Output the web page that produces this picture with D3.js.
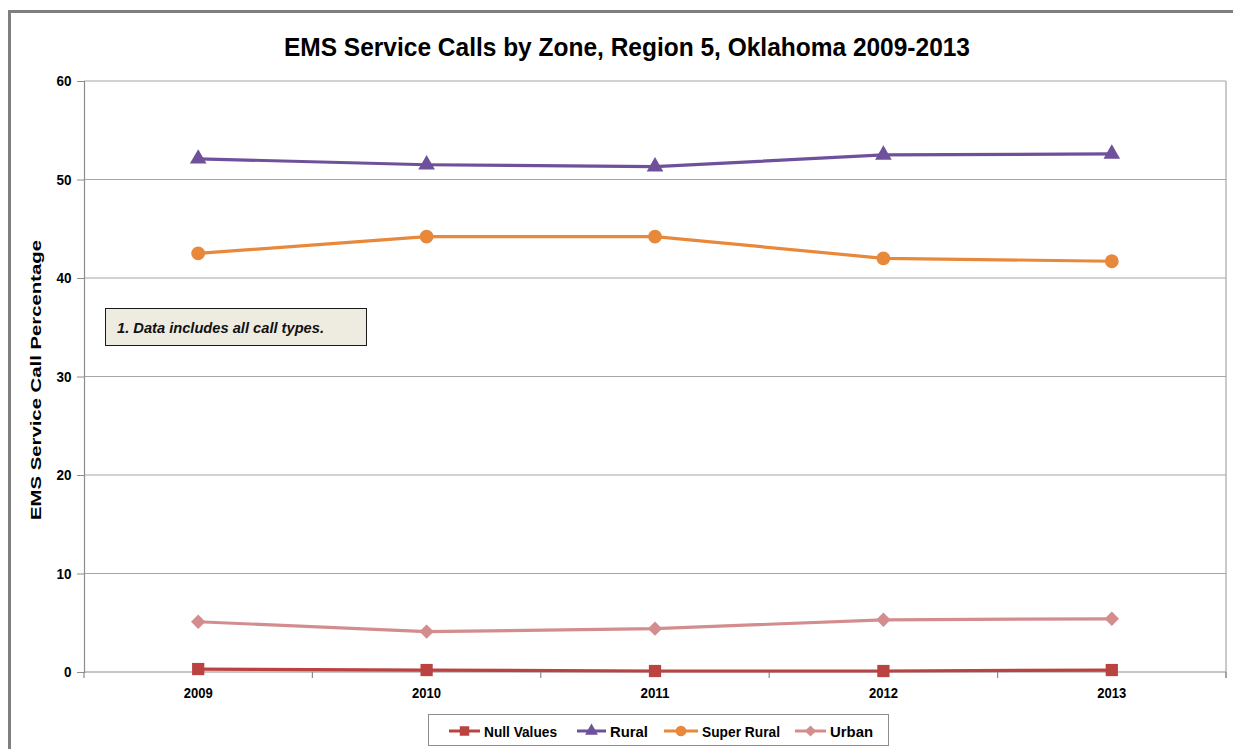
<!DOCTYPE html>
<html><head><meta charset="utf-8">
<script src="https://cdn.jsdelivr.net/npm/d3@7"></script>
<style>body{margin:0;background:#fff}svg{display:block}</style>
</head><body>
<script>
const years = ["2009","2010","2011","2012","2013"];
const nullValues = [0.3, 0.2, 0.1, 0.1, 0.2];
const rural = [52.1, 51.5, 51.3, 52.5, 52.6];
const superRural = [42.5, 44.2, 44.2, 42.0, 41.7];
const urban = [5.1, 4.1, 4.4, 5.3, 5.4];
const yTicks = [0, 10, 20, 30, 40, 50, 60];
const seriesNames = ["Null Values", "Rural", "Super Rural", "Urban"];
const seriesColors = ["#BA4240", "#6F519B", "#E8883A", "#D48D8E"];
const seriesShapes = ["square", "triangle", "circle", "diamond"];
const title = "EMS Service Calls by Zone, Region 5, Oklahoma 2009-2013";
const yLabel = "EMS Service Call Percentage";
const note = "1.  Data includes all call types.";

const series = [nullValues, rural, superRural, urban].map((v, i) => ({
  name: seriesNames[i], values: v, color: seriesColors[i], shape: seriesShapes[i]
}));

const W = 1233, H = 749;
const svg = d3.select("body").append("svg").attr("width", W).attr("height", H);
const font = "'Liberation Sans', Arial, sans-serif";

// outer frame
svg.append("rect").attr("x", 9.5).attr("y", 11.5).attr("width", W + 10).attr("height", H + 10)
  .attr("fill", "none").attr("stroke", "#7f7f7f").attr("stroke-width", 3);

const pLeft = 84, pRight = 1226, pTop = 81, pBottom = 672;
const x = d3.scaleBand().domain(years).range([pLeft, pRight]);
const y = d3.scaleLinear().domain([0, 60]).range([pBottom, pTop]);

// gridlines
svg.append("g").selectAll("line").data(yTicks.filter(d => d > 0)).join("line")
  .attr("x1", pLeft).attr("x2", pRight).attr("y1", d => y(d)).attr("y2", d => y(d))
  .attr("stroke", "#a6a6a6").attr("stroke-width", 1.2);

// right border of plot
svg.append("line").attr("x1", pRight).attr("x2", pRight).attr("y1", pTop).attr("y2", pBottom + 6)
  .attr("stroke", "#a6a6a6").attr("stroke-width", 1.2);

// y axis
const yAxis = svg.append("g").attr("transform", `translate(${pLeft},0)`)
  .call(d3.axisLeft(y).tickValues(yTicks).tickSize(7).tickPadding(7));
yAxis.select(".domain").attr("stroke", "#8c8c8c").attr("stroke-width", 1.2);
yAxis.selectAll(".tick line").attr("stroke", "#8c8c8c");
yAxis.selectAll("text").attr("font-family", font).attr("font-size", 15).attr("font-weight", "bold").attr("fill", "#000")
  .attr("transform", "scale(0.9,1)");

// x axis
const xAxis = svg.append("g").attr("transform", `translate(0,${pBottom})`)
  .call(d3.axisBottom(x).tickSize(0).tickPadding(15));
xAxis.select(".domain").remove();
xAxis.selectAll("text").attr("font-family", font).attr("font-size", 15).attr("font-weight", "bold").attr("fill", "#000")
  .attr("textLength", 29).attr("lengthAdjust", "spacingAndGlyphs");
svg.append("line").attr("x1", pLeft).attr("x2", pRight).attr("y1", pBottom).attr("y2", pBottom)
  .attr("stroke", "#8c8c8c").attr("stroke-width", 1.2);
const bounds = years.map(d => x(d)).concat([pRight]);
svg.append("g").selectAll("line").data(bounds).join("line")
  .attr("x1", d => d).attr("x2", d => d).attr("y1", pBottom).attr("y2", pBottom + 6)
  .attr("stroke", "#8c8c8c").attr("stroke-width", 1.2);

// title
svg.append("text").attr("x", 627).attr("y", 56).attr("text-anchor", "middle")
  .attr("font-family", font).attr("font-size", 26).attr("font-weight", "bold")
  .attr("textLength", 686).attr("lengthAdjust", "spacingAndGlyphs").text(title);

// y label
svg.append("text").attr("transform", "translate(41,380) rotate(-90)").attr("text-anchor", "middle")
  .attr("font-family", font).attr("font-size", 15).attr("font-weight", "bold")
  .attr("textLength", 280).attr("lengthAdjust", "spacingAndGlyphs").text(yLabel);

// symbols
function sym(shape, size) {
  if (shape === "diamond") {
    const r = Math.sqrt(size) * 0.72;
    return `M0,${-r}L${r},0L0,${r}L${-r},0Z`;
  }
  const t = {square: d3.symbolSquare, triangle: d3.symbolTriangle, circle: d3.symbolCircle}[shape];
  return d3.symbol().type(t).size(size)();
}
const sizes = {square: 150, triangle: 120, circle: 150, diamond: 100};

const line = d3.line().x((d, i) => x(years[i]) + x.bandwidth() / 2).y(d => y(d));
series.forEach(s => {
  const g = svg.append("g");
  g.append("path").attr("d", line(s.values)).attr("fill", "none").attr("stroke", s.color).attr("stroke-width", 3.2);
  g.selectAll("path.m").data(s.values).join("path").attr("class", "m")
    .attr("transform", (d, i) => `translate(${x(years[i]) + x.bandwidth() / 2},${y(d)})`)
    .attr("d", sym(s.shape, sizes[s.shape])).attr("fill", s.color);
});

// note box
svg.append("rect").attr("x", 105.5).attr("y", 308.5).attr("width", 261).attr("height", 37)
  .attr("fill", "#EEECE1").attr("stroke", "#1a1a1a").attr("stroke-width", 1);
svg.append("text").attr("x", 117).attr("y", 333).attr("font-family", font)
  .attr("font-size", 15).attr("font-style", "italic").attr("font-weight", "bold").attr("fill", "#111")
  .attr("textLength", 207).attr("lengthAdjust", "spacingAndGlyphs").text(note);

// legend
svg.append("rect").attr("x", 428.5).attr("y", 714.5).attr("width", 460).attr("height", 31)
  .attr("fill", "#fff").attr("stroke", "#8c8c8c").attr("stroke-width", 1);
const legX = [449, 577, 664, 795];
const legW = [31, 29, 34, 31];
const legTW = [73, 38, 78, 43];
series.forEach((s, i) => {
  const g = svg.append("g").attr("transform", `translate(${legX[i]},731)`);
  g.append("line").attr("x1", 0).attr("x2", legW[i]).attr("stroke", s.color).attr("stroke-width", 3);
  g.append("path").attr("transform", `translate(${legW[i] / 2},0)`).attr("d", sym(s.shape, sizes[s.shape] * 0.6)).attr("fill", s.color);
  g.append("text").attr("x", legW[i] + 4).attr("y", 6).attr("font-family", font).attr("font-size", 15)
    .attr("font-weight", "bold").attr("fill", "#000")
    .attr("textLength", legTW[i]).attr("lengthAdjust", "spacingAndGlyphs").text(s.name);
});
</script>
</body></html>
